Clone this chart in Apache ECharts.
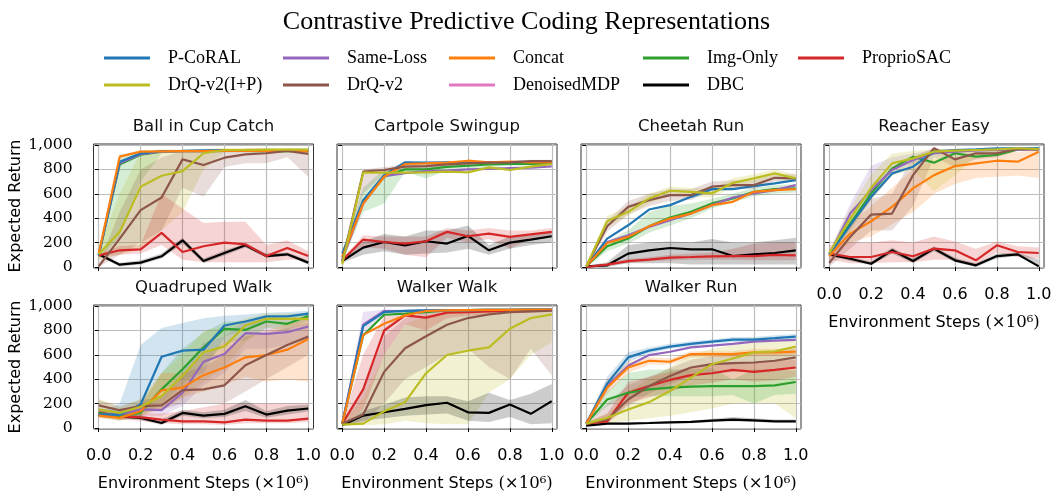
<!DOCTYPE html>
<html>
<head>
<meta charset="utf-8">
<script src="https://cdn.jsdelivr.net/npm/echarts@6/dist/echarts.min.js"></script>
<style>
  html, body { margin: 0; padding: 0; background: #fff; }
  #chart { width: 1053px; height: 494px; }
</style>
</head>
<body>
<div id="chart"></div>
<script>
// Environment steps (x 1e6) at which every method was evaluated
const steps = [0, 0.1, 0.2, 0.3, 0.4, 0.5, 0.6, 0.7, 0.8, 0.9, 1.0];
const xTicks = [0, 0.2, 0.4, 0.6, 0.8, 1.0];
const yTicks = [0, 200, 400, 600, 800, 1000];

// Methods, in legend order; every "...Means" array below follows this order
const methods = ['P-CoRAL', 'Same-Loss', 'Concat', 'Img-Only', 'ProprioSAC',
                 'DrQ-v2(I+P)', 'DrQ-v2', 'DenoisedMDP', 'DBC'];
const methodColors = ['#1f77b4', '#9467bd', '#ff7f0e', '#2ca02c', '#d62728',
                      '#bcbd22', '#8c564b', '#e377c2', '#000000'];

// ---- Ball in Cup Catch ----
const ballCupMeans = [
  [100, 863, 931, 950, 952, 955, 955, 955, 955, 955, 955],
  [100, 850, 925, 945, 950, 950, 952, 952, 952, 952, 950],
  [110, 904, 945, 948, 950, 950, 952, 952, 952, 952, 948],
  [100, 840, 920, 945, 950, 950, 952, 952, 950, 952, 950],
  [96, 137, 145, 280, 123, 170, 200, 186, 90, 156, 90],
  [104, 288, 658, 748, 786, 932, 959, 960, 962, 962, 962],
  [5, 233, 466, 570, 882, 836, 896, 923, 932, 951, 926],
  [],
  [104, 19, 36, 88, 219, 49, 115, 178, 90, 104, 36]
];
const ballCupBands = [
  ['Img-Only', [60, 250, 700, 930, 940, 940, 940, 940, 940, 940, 940], [140, 920, 955, 960, 960, 960, 962, 962, 962, 962, 962]],
  ['DrQ-v2(I+P)', [60, 100, 150, 300, 450, 800, 940, 940, 940, 940, 940], [150, 600, 940, 960, 960, 970, 975, 975, 975, 975, 975]],
  ['DrQ-v2', [0, 100, 200, 300, 650, 575, 820, 850, 850, 900, 740], [30, 450, 800, 900, 950, 950, 960, 960, 960, 970, 970]],
  ['ProprioSAC', [80, 100, 110, 180, 60, 40, 40, 40, 40, 60, 60], [110, 170, 180, 600, 480, 360, 370, 370, 180, 220, 130]],
  ['DBC', [90, 5, 20, 70, 190, 30, 95, 160, 75, 90, 20], [120, 35, 55, 110, 240, 70, 135, 195, 110, 120, 55]]
];

// ---- Cartpole Swingup ----
const cartpoleMeans = [
  [110, 548, 753, 858, 855, 858, 858, 860, 860, 862, 862],
  [60, 520, 745, 770, 785, 790, 800, 805, 810, 815, 825],
  [82, 520, 740, 844, 849, 855, 871, 858, 863, 858, 858],
  [80, 530, 740, 800, 800, 820, 830, 840, 845, 845, 850],
  [55, 225, 205, 192, 211, 288, 252, 274, 247, 268, 288],
  [22, 773, 773, 773, 775, 781, 775, 816, 795, 822, 844],
  [40, 781, 795, 822, 827, 841, 849, 855, 858, 868, 868],
  [],
  [49, 159, 205, 178, 211, 192, 255, 137, 200, 225, 252]
];
const cartpoleBands = [
  ['Img-Only', [40, 450, 520, 780, 726, 790, 800, 820, 830, 830, 835], [130, 650, 800, 840, 840, 850, 855, 860, 860, 860, 865]],
  ['DrQ-v2', [20, 600, 760, 800, 805, 820, 830, 840, 845, 855, 855], [60, 800, 820, 840, 845, 855, 860, 865, 868, 878, 878]],
  ['ProprioSAC', [40, 160, 150, 100, 80, 240, 200, 230, 150, 230, 250], [70, 260, 250, 250, 250, 320, 300, 320, 300, 300, 320]],
  ['DBC', [35, 100, 130, 100, 110, 120, 150, 100, 150, 180, 200], [60, 210, 270, 250, 300, 300, 340, 180, 250, 260, 290]]
];

// ---- Cheetah Run ----
const cheetahMeans = [
  [5, 233, 342, 471, 507, 575, 638, 638, 663, 685, 712],
  [5, 205, 260, 329, 384, 438, 507, 570, 603, 630, 671],
  [5, 197, 247, 334, 397, 438, 507, 534, 616, 630, 638],
  [5, 170, 233, 334, 405, 452, 521, 562, 616, 638, 644],
  [0, 19, 49, 60, 77, 82, 88, 90, 90, 99, 96],
  [5, 375, 452, 562, 625, 616, 603, 690, 726, 767, 726],
  [5, 334, 493, 548, 589, 589, 658, 671, 671, 731, 726],
  [],
  [5, 14, 110, 137, 156, 145, 145, 90, 104, 115, 137]
];
const cheetahBands = [
  ['Img-Only', [0, 130, 190, 280, 340, 400, 480, 530, 580, 600, 610], [10, 210, 300, 450, 500, 520, 560, 600, 650, 670, 680]],
  ['DrQ-v2', [0, 290, 430, 500, 540, 550, 620, 640, 640, 700, 700], [10, 380, 540, 600, 640, 640, 700, 710, 710, 760, 760]],
  ['DrQ-v2(I+P)', [0, 330, 420, 520, 590, 580, 570, 650, 690, 730, 700], [10, 420, 490, 600, 660, 650, 640, 730, 760, 800, 760]],
  ['ProprioSAC', [0, 10, 35, 45, 55, 60, 60, 60, 55, 55, 55], [5, 30, 65, 80, 100, 110, 120, 150, 190, 200, 200]],
  ['DBC', [0, 0, 30, 30, 30, 20, 20, 20, 20, 20, 20], [10, 40, 180, 200, 210, 200, 230, 200, 200, 220, 240]]
];

// ---- Reacher Easy ----
const reacherMeans = [
  [100, 342, 575, 767, 822, 945, 959, 964, 973, 973, 973],
  [100, 438, 630, 795, 877, 932, 945, 955, 960, 962, 965],
  [90, 274, 375, 493, 644, 753, 827, 849, 871, 863, 945],
  [110, 356, 603, 808, 904, 855, 932, 904, 918, 964, 973],
  [110, 82, 82, 123, 88, 151, 137, 55, 178, 123, 115],
  [115, 397, 649, 849, 890, 945, 953, 959, 964, 973, 967],
  [33, 247, 430, 438, 753, 973, 882, 932, 932, 967, 964],
  [],
  [104, 68, 27, 137, 49, 151, 55, 14, 90, 104, 5]
];
const reacherBands = [
  ['Same-Loss', [80, 300, 550, 750, 850, 920, 935, 945, 950, 955, 955], [120, 520, 830, 900, 930, 960, 965, 970, 972, 975, 975]],
  ['Concat', [70, 200, 250, 350, 450, 600, 680, 730, 740, 750, 730], [110, 350, 500, 650, 800, 880, 900, 920, 950, 940, 970]],
  ['DrQ-v2', [0, 150, 300, 300, 500, 900, 820, 880, 900, 950, 950], [60, 350, 560, 600, 900, 980, 940, 960, 960, 975, 975]],
  ['DrQ-v2(I+P)', [90, 300, 550, 750, 800, 620, 750, 900, 920, 950, 950], [130, 480, 760, 930, 950, 965, 970, 970, 975, 978, 978]],
  ['ProprioSAC', [60, 30, 30, 40, 40, 60, 60, 20, 120, 80, 70], [180, 200, 200, 220, 200, 250, 210, 150, 210, 170, 160]],
  ['DBC', [90, 50, 15, 110, 30, 130, 40, 0, 70, 90, 0], [120, 85, 45, 160, 70, 170, 75, 30, 110, 120, 60]]
];

// ---- Quadruped Walk ----
const quadrupedMeans = [
  [110, 110, 193, 584, 634, 642, 840, 873, 915, 915, 937],
  [110, 110, 152, 146, 289, 543, 606, 777, 771, 785, 832],
  [102, 83, 138, 309, 331, 433, 496, 579, 598, 642, 730],
  [124, 96, 124, 317, 482, 661, 813, 804, 873, 854, 917],
  [129, 96, 88, 69, 55, 55, 47, 69, 61, 61, 77],
  [152, 124, 174, 262, 427, 620, 669, 840, 895, 895, 895],
  [185, 146, 179, 185, 311, 317, 350, 515, 598, 680, 749],
  [],
  [110, 96, 83, 41, 124, 102, 116, 179, 110, 143, 160]
];
const quadrupedBands = [
  ['P-CoRAL', [90, 80, 120, 300, 400, 450, 750, 800, 880, 880, 910], [130, 200, 680, 820, 860, 900, 920, 930, 945, 950, 960]],
  ['Img-Only', [90, 60, 90, 200, 350, 500, 700, 720, 820, 800, 880], [160, 140, 180, 450, 650, 780, 870, 880, 920, 900, 950]],
  ['DrQ-v2(I+P)', [120, 90, 120, 150, 250, 380, 500, 700, 820, 830, 840], [240, 170, 240, 450, 600, 800, 830, 900, 940, 940, 940]],
  ['Same-Loss', [90, 90, 100, 100, 180, 350, 450, 650, 650, 680, 750], [140, 140, 200, 250, 450, 700, 750, 880, 880, 880, 900]],
  ['Concat', [80, 60, 100, 150, 250, 300, 350, 420, 380, 400, 380], [130, 110, 200, 450, 450, 600, 700, 760, 800, 850, 900]],
  ['DrQ-v2', [140, 120, 130, 150, 200, 200, 200, 300, 400, 500, 600], [230, 180, 230, 250, 450, 500, 600, 750, 780, 820, 860]],
  ['ProprioSAC', [100, 70, 60, 40, 30, 30, 25, 40, 40, 40, 50], [160, 130, 120, 120, 140, 170, 200, 200, 200, 200, 200]],
  ['DBC', [90, 80, 65, 25, 100, 80, 90, 140, 85, 110, 135], [130, 115, 105, 70, 150, 130, 150, 230, 140, 180, 190]]
];

// ---- Walker Walk ----
const walkerWalkMeans = [
  [36, 835, 950, 960, 964, 964, 966, 968, 968, 970, 970],
  [36, 846, 959, 959, 962, 964, 966, 968, 968, 970, 970],
  [36, 763, 854, 923, 959, 964, 966, 968, 968, 970, 970],
  [36, 758, 928, 937, 950, 964, 966, 968, 968, 970, 970],
  [36, 317, 799, 923, 904, 945, 950, 956, 960, 962, 964],
  [28, 36, 138, 212, 449, 598, 634, 661, 813, 901, 931],
  [36, 110, 460, 653, 752, 846, 901, 931, 950, 956, 961],
  [],
  [22, 102, 129, 157, 187, 207, 129, 124, 193, 116, 220]
];
const walkerWalkBands = [
  ['DrQ-v2(I+P)', [20, 20, 30, 60, 40, 30, 30, 290, 400, 600, 700], [40, 250, 600, 850, 920, 940, 950, 955, 960, 965, 965]],
  ['DrQ-v2', [20, 40, 200, 400, 500, 600, 650, 500, 400, 650, 430], [50, 300, 750, 900, 950, 960, 965, 968, 970, 975, 975]],
  ['ProprioSAC', [25, 150, 600, 850, 800, 900, 920, 930, 940, 945, 950], [50, 600, 920, 960, 965, 970, 972, 975, 975, 975, 975]],
  ['Same-Loss', [30, 760, 940, 950, 955, 958, 960, 962, 962, 964, 964], [45, 950, 972, 972, 972, 972, 974, 975, 975, 976, 976]],
  ['DBC', [15, 60, 80, 100, 110, 120, 60, 50, 90, 30, 40], [30, 140, 190, 250, 260, 260, 220, 290, 230, 280, 360]]
];

// ---- Walker Run ----
const walkerRunMeans = [
  [36, 364, 579, 634, 667, 689, 708, 725, 725, 736, 749],
  [36, 344, 510, 598, 625, 661, 675, 689, 708, 716, 722],
  [36, 331, 496, 551, 543, 606, 606, 606, 620, 620, 625],
  [36, 234, 289, 317, 331, 339, 344, 344, 344, 350, 377],
  [36, 55, 289, 344, 394, 433, 449, 477, 460, 477, 496],
  [36, 83, 152, 212, 303, 413, 523, 570, 620, 628, 667],
  [36, 69, 234, 344, 427, 496, 523, 532, 537, 551, 579],
  [],
  [19, 36, 36, 41, 47, 50, 61, 69, 63, 55, 55]
];
const walkerRunBands = [
  ['DrQ-v2(I+P)', [30, 40, 60, 80, 100, 130, 160, 200, 200, 200, 80], [45, 120, 300, 400, 500, 600, 650, 680, 700, 720, 730]],
  ['Img-Only', [30, 180, 250, 260, 260, 260, 260, 270, 200, 270, 280], [45, 300, 450, 480, 480, 480, 490, 400, 480, 480, 470]],
  ['DrQ-v2', [30, 40, 180, 280, 360, 420, 450, 460, 460, 470, 490], [45, 200, 350, 420, 490, 560, 590, 600, 610, 620, 650]],
  ['ProprioSAC', [30, 30, 200, 250, 300, 350, 370, 400, 380, 390, 420], [45, 120, 380, 420, 460, 500, 520, 540, 540, 550, 560]],
  ['Concat', [30, 280, 450, 520, 520, 580, 580, 580, 590, 590, 600], [45, 400, 540, 580, 570, 630, 630, 630, 650, 650, 650]],
  ['P-CoRAL', [30, 300, 540, 610, 650, 670, 690, 705, 705, 715, 730], [45, 420, 620, 660, 690, 710, 725, 745, 745, 760, 770]],
  ['DBC', [15, 30, 30, 35, 40, 40, 50, 55, 50, 45, 45], [25, 45, 45, 50, 55, 60, 75, 90, 80, 70, 70]]
];

const panelTitles = ['Ball in Cup Catch', 'Cartpole Swingup', 'Cheetah Run', 'Reacher Easy',
                     'Quadruped Walk', 'Walker Walk', 'Walker Run'];
const panelMeans = [ballCupMeans, cartpoleMeans, cheetahMeans, reacherMeans,
                    quadrupedMeans, walkerWalkMeans, walkerRunMeans];
const panelBands = [ballCupBands, cartpoleBands, cheetahBands, reacherBands,
                    quadrupedBands, walkerWalkBands, walkerRunBands];

// ---------------- layout & styling ----------------
const colLeft = [93.5, 337, 581, 824];
const rowTop = [144, 305];
const panelW = 220, panelH = 124;
// line stacking order, lowest first
const drawOrder = ['DBC', 'ProprioSAC', 'DenoisedMDP', 'Img-Only', 'Same-Loss',
                   'P-CoRAL', 'Concat', 'DrQ-v2', 'DrQ-v2(I+P)'];

function colorOf(name) { return methodColors[methods.indexOf(name)]; }
function rgba(hex, a) {
  const n = parseInt(hex.slice(1), 16);
  return 'rgba(' + ((n >> 16) & 255) + ',' + ((n >> 8) & 255) + ',' + (n & 255) + ',' + a + ')';
}

const grids = [], xAxes = [], yAxes = [], series = [], graphics = [];

panelTitles.forEach((title, p) => {
  const row = p < 4 ? 0 : 1;
  const col = p % 4;
  const left = colLeft[col], top = rowTop[row];
  const showX = p >= 3;
  const showY = col === 0;

  grids.push({
    left: left, top: top, width: panelW, height: panelH,
    show: true, borderColor: '#333', borderWidth: 1, backgroundColor: 'transparent',
    containLabel: false, outerBoundsMode: 'none'
  });

  xAxes.push({
    type: 'value', gridIndex: p, min: -0.025, max: 1.025,
    axisLine: { show: false },
    axisTick: { show: true, inside: false, length: 4, customValues: xTicks, lineStyle: { color: '#000', width: 1 } },
    axisLabel: {
      show: showX, customValues: xTicks, margin: 19,
      formatter: v => v.toFixed(1),
      fontFamily: 'DejaVu Sans', fontSize: 16, color: '#000'
    },
    splitLine: { show: true, lineStyle: { color: '#bdbdbd', width: 1.2 } },
    name: showX ? '{a|Environment Steps }{b|(×10⁶)}' : '',
    nameLocation: 'middle', nameGap: 46,
    nameTextStyle: {
      rich: {
        a: { fontFamily: 'DejaVu Sans', fontSize: 16, color: '#000' },
        b: { fontFamily: 'DejaVu Serif', fontSize: 16.5, color: '#000' }
      }
    }
  });

  yAxes.push({
    type: 'value', gridIndex: p, min: -8, max: 1008,
    axisLine: { show: false },
    axisTick: { show: true, inside: false, length: 4, customValues: yTicks, lineStyle: { color: '#000', width: 1 } },
    axisLabel: {
      show: showY, customValues: yTicks, margin: 21,
      formatter: v => (v >= 1000 ? '1,000' : String(v)),
      fontFamily: 'DejaVu Serif', fontSize: 15.5, color: '#000'
    },
    splitLine: { show: true, lineStyle: { color: '#bdbdbd', width: 1.2 } },
    name: showY ? 'Expected Return' : '',
    nameLocation: 'middle', nameRotate: 90, nameGap: 62,
    nameTextStyle: { fontFamily: 'DejaVu Sans', fontSize: 16, color: '#000' }
  });

  // panel title
  graphics.push({
    type: 'text', x: left + panelW / 2, y: row === 0 ? 127 : 288, silent: true,
    style: { text: title, align: 'center', verticalAlign: 'middle',
             font: '16.5px "DejaVu Sans"', fill: '#111' }
  });

  // shaded spread bands
  panelBands[p].forEach(([name, lo, hi]) => {
    const fill = rgba(colorOf(name), 0.2);
    series.push({
      type: 'custom', name: name + ' range', xAxisIndex: p, yAxisIndex: p,
      silent: true, animation: false,
      data: steps.map((x, i) => [x, lo[i], hi[i]]),
      encode: { x: 0, y: [1, 2] },
      renderItem: (params, api) => {
        if (params.dataIndex !== 0) return null;
        const upper = steps.map((x, i) => api.coord([x, hi[i]]));
        const lower = steps.map((x, i) => api.coord([x, lo[i]])).reverse();
        const cs = params.coordSys;
        return {
          type: 'polygon',
          shape: { points: upper.concat(lower) },
          style: { fill: fill, stroke: null },
          clipPath: { type: 'rect', shape: { x: cs.x, y: cs.y, width: cs.width, height: cs.height } }
        };
      }
    });
  });

  // mean curves
  drawOrder.forEach(name => {
    const m = methods.indexOf(name);
    const vals = panelMeans[p][m];
    if (!vals.length && !(p === 0 && name === 'DenoisedMDP')) return;
    const c = methodColors[m];
    series.push({
      type: 'line', name: name, xAxisIndex: p, yAxisIndex: p,
      data: vals.map((v, i) => [steps[i], v]),
      showSymbol: false, symbol: 'none', silent: true, animation: false,
      color: c,
      itemStyle: { color: c },
      lineStyle: { color: c, width: 2.2 },
      emphasis: { disabled: true }
    });
  });
});

// legend laid out in five columns
const legendCols = [
  ['P-CoRAL', 'DrQ-v2(I+P)'],
  ['Same-Loss', 'DrQ-v2'],
  ['Concat', 'DenoisedMDP'],
  ['Img-Only', 'DBC'],
  ['ProprioSAC']
];
const legendLeft = [104, 283, 449, 643, 798];
const legends = legendCols.map((names, k) => ({
  orient: 'vertical', left: legendLeft[k], top: 48, padding: 0,
  itemGap: 7, itemWidth: 46, itemHeight: 3, icon: 'rect',
  selectedMode: false, data: names,
  formatter: n => '{pad| }' + n,
  textStyle: {
    fontFamily: 'Liberation Serif', fontSize: 18, color: '#000', lineHeight: 20,
    rich: { pad: { width: 13 } }
  }
}));

const chart = echarts.init(document.getElementById('chart'), null, { renderer: 'canvas' });
chart.setOption({
  animation: false,
  backgroundColor: '#fff',
  title: {
    text: 'Contrastive Predictive Coding Representations',
    left: 'center', top: 9, padding: 0,
    textStyle: { fontFamily: 'Liberation Serif', fontSize: 26, fontWeight: 'normal', color: '#000' }
  },
  legend: legends,
  grid: grids,
  xAxis: xAxes,
  yAxis: yAxes,
  graphic: graphics,
  series: series
});
</script>
</body>
</html>
